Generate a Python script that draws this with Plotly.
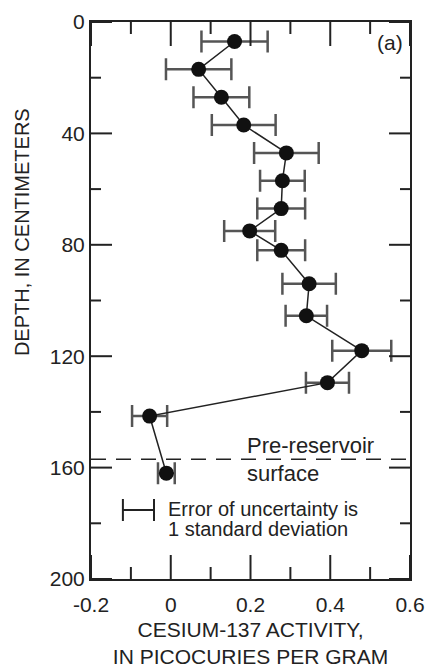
import plotly.graph_objects as go

# ---- data ----
depth_cm = [7, 17, 27, 37, 47, 57, 67, 75, 82, 94, 105.5, 118, 129.5, 141.5, 162]
cs137_activity = [0.16, 0.07, 0.127, 0.183, 0.29, 0.28, 0.277, 0.198, 0.277,
                  0.347, 0.34, 0.479, 0.393, -0.053, -0.011]
cs137_error = [0.083, 0.082, 0.07, 0.08, 0.081, 0.056, 0.06, 0.064, 0.06,
               0.067, 0.052, 0.074, 0.054, 0.044, 0.021]

pre_reservoir_depth = 157

x_tickvals = [-0.2, 0, 0.2, 0.4, 0.6]
x_ticktext = ["-0.2", "0", "0.2", "0.4", "0.6"]
x_minor_vals = [-0.1, 0.1, 0.3, 0.5]
y_tickvals = [0, 40, 80, 120, 160, 200]
y_ticktext = ["0", "40", "80", "120", "160", "200"]
y_minor_vals = [20, 60, 100, 140, 180]

legend_x = [-0.081]
legend_y = [175.2]
legend_err = [0.039]

FONT = "Liberation Sans, Arial, sans-serif"
INK = "#222222"
CLEAR = "rgba(0,0,0,0)"

W, H = 428, 668
ML, MR, MT, MB = 91, 18, 22, 89
PW, PH = W - ML - MR, H - MT - MB

fig = go.Figure()

fig.add_trace(go.Scatter(
    x=cs137_activity, y=depth_cm, mode="lines+markers",
    line=dict(color=INK, width=1.5),
    marker=dict(size=15, color="#111111"),
    error_x=dict(type="data", array=cs137_error, symmetric=True,
                 color="#555555", thickness=2.5, width=11),
    showlegend=False, hoverinfo="skip",
))

fig.add_trace(go.Scatter(
    x=legend_x, y=legend_y, mode="markers",
    marker=dict(size=1, color=CLEAR),
    error_x=dict(type="data", array=legend_err, symmetric=True,
                 color=INK, thickness=2, width=11),
    showlegend=False, hoverinfo="skip",
))

fig.add_shape(type="line", xref="paper", x0=0, x1=1, yref="y",
              y0=pre_reservoir_depth, y1=pre_reservoir_depth,
              line=dict(color=INK, width=1.5, dash="15px,10px"))

# inside tick marks on all four sides, placed through the axis scales
tick_line = dict(color=INK, width=2)
for vals, length in ((x_tickvals, 24), (x_minor_vals, 12)):
    f = length / PH
    for v in vals:
        fig.add_shape(type="line", xref="x", yref="paper", x0=v, x1=v, y0=0, y1=f,
                      line=tick_line)
        fig.add_shape(type="line", xref="x", yref="paper", x0=v, x1=v, y0=1 - f, y1=1,
                      line=tick_line)
for vals, length in ((y_tickvals, 21), (y_minor_vals, 10)):
    f = length / PW
    for v in vals:
        fig.add_shape(type="line", xref="paper", yref="y", x0=0, x1=f, y0=v, y1=v,
                      line=tick_line)
        fig.add_shape(type="line", xref="paper", yref="y", x0=1 - f, x1=1, y0=v, y1=v,
                      line=tick_line)

ann_font = dict(family=FONT, color=INK)
fig.add_annotation(x=0.185, y=151.9, text="Pre-reservoir", showarrow=False,
                   xanchor="left", yanchor="middle", font=dict(size=22, **ann_font))
fig.add_annotation(x=0.185, y=162, text="surface", showarrow=False,
                   xanchor="left", yanchor="middle", font=dict(size=22, **ann_font))
fig.add_annotation(x=-0.012, y=174.8, text="Error of uncertainty is", showarrow=False,
                   xanchor="left", yanchor="middle", font=dict(size=20, **ann_font))
fig.add_annotation(x=-0.012, y=182.0, text="1 standard deviation", showarrow=False,
                   xanchor="left", yanchor="middle", font=dict(size=20, **ann_font))
fig.add_annotation(x=0.587, y=7.3, text="(a)", showarrow=False,
                   xanchor="right", yanchor="middle", font=dict(size=21, **ann_font))
fig.add_annotation(xref="paper", yref="paper", x=-0.216, y=0.623,
                   text="DEPTH, IN CENTIMETERS", textangle=-90, showarrow=False,
                   xanchor="center", yanchor="middle", font=dict(size=20, **ann_font))

axis_common = dict(
    showline=True, linecolor=INK, linewidth=2, mirror=True,
    ticks="", showgrid=False, zeroline=False,
    tickfont=dict(family=FONT, size=21, color=INK),
)

fig.update_xaxes(
    range=[-0.2, 0.6], tickmode="array", tickvals=x_tickvals, ticktext=x_ticktext,
    ticklabelstandoff=6,
    title=dict(text="CESIUM-137 ACTIVITY,<br>IN PICOCURIES PER GRAM",
               font=dict(family=FONT, size=21, color=INK), standoff=12),
    **axis_common,
)
fig.update_yaxes(
    range=[200, 0], tickmode="array", tickvals=y_tickvals, ticktext=y_ticktext,
    **axis_common,
)

fig.update_layout(
    template="none",
    width=W, height=H,
    margin=dict(l=ML, r=MR, t=MT, b=MB, autoexpand=False),
    plot_bgcolor="white", paper_bgcolor="white",
    font=dict(family=FONT, color=INK),
)

fig.write_html("out.html", config={"displayModeBar": False},
               post_script="document.body.style.margin='0px';document.body.style.overflow='hidden';")
